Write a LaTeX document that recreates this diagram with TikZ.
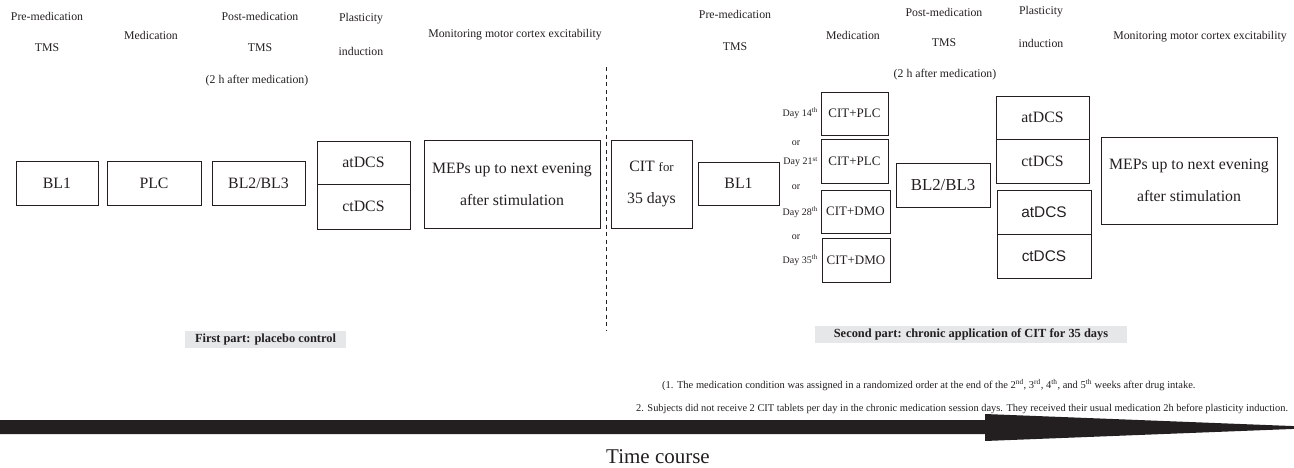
\documentclass[tikz,border=0pt]{standalone}
\usepackage{fontspec}
\setmainfont{Liberation Serif}
\newfontfamily\arialfont{Liberation Sans}
\definecolor{ink}{RGB}{35,31,32}
\definecolor{labelgray}{RGB}{230,231,232}
\newcommand{\myfs}[2]{\fontsize{#1}{#2}\selectfont}
\begin{document}
\begin{tikzpicture}[x=1pt,y=-1pt,
  box/.style={draw=ink, line width=0.9pt, inner sep=0pt, align=center, text=ink, font=\rmfamily\myfs{15.8}{32}},
  medbox/.style={box, font=\rmfamily\myfs{13}{15}},
  sansbox/.style={box, font=\arialfont\myfs{15.4}{18}},
  hdr/.style={inner sep=0pt, text=ink, font=\myfs{11.8}{14}},
  daylbl/.style={inner sep=0pt, text=ink, anchor=east, font=\myfs{10}{12}},
  orlbl/.style={inner sep=0pt, text=ink, font=\myfs{10}{12}},
  partlbl/.style={fill=labelgray, inner sep=0pt, text=ink, font=\bfseries\myfs{12.4}{14}, minimum height=17pt},
  note/.style={inner sep=0pt, text=ink, anchor=west, font=\myfs{10.5}{12}},
  divider/.style={draw=ink, line width=1pt, dash pattern=on 4pt off 3.5pt}
]
\useasboundingbox (0,0) rectangle (1294,467);
\clip (0,0) rectangle (1294,467);

% ---------- headers, first part ----------
\node[hdr] (h1a) at (47,16) {Pre-medication};
\node[hdr] (h1b) at (47,48) {TMS};
\node[hdr] (h2)  at (151,35) {Medication};
\node[hdr] (h3a) at (260,16) {Post-medication};
\node[hdr] (h3b) at (260,48) {TMS};
\node[hdr] (h3c) at (257,81) {(2 h after medication)};
\node[hdr] (h4a) at (361,19) {Plasticity};
\node[hdr] (h4b) at (361,51) {induction};
\node[hdr] (h5)  at (515,35) {Monitoring motor cortex excitability};

% ---------- headers, second part ----------
\node[hdr] (k1a) at (735,14) {Pre-medication};
\node[hdr] (k1b) at (735,47) {TMS};
\node[hdr] (k2)  at (853,35) {Medication};
\node[hdr] (k3a) at (944,12) {Post-medication};
\node[hdr] (k3b) at (944,43) {TMS};
\node[hdr] (k3c) at (945,75) {(2 h after medication)};
\node[hdr] (k4a) at (1041,12) {Plasticity};
\node[hdr] (k4b) at (1041,43) {induction};
\node[hdr] (k5)  at (1200,37) {Monitoring motor cortex excitability};

% ---------- first part boxes ----------
\node[box, minimum width=82pt, minimum height=44pt] (bl1) at (57,183) {BL1};
\node[box, minimum width=94pt, minimum height=44pt] (plc) at (154,183) {PLC};
\node[box, minimum width=93pt, minimum height=44pt] (bl23) at (258.5,183) {BL2/BL3};
\node[box, minimum width=93pt, minimum height=43pt] (at1) at (363.5,162.5) {atDCS};
\node[box, minimum width=93pt, minimum height=45pt] (ct1) at (363.5,206.5) {ctDCS};
\node[box, minimum width=176pt, minimum height=88pt] (mep1) at (512,184) {MEPs up to next evening\\after stimulation};

% ---------- divider ----------
\coordinate (dtop) at (606,67);
\coordinate (dbot) at (606,330);
\draw[divider] (dtop) -- (dbot);

% ---------- second part boxes ----------
\node[box, minimum width=81pt, minimum height=88pt] (cit) at (651.5,184) {CIT {\myfs{12.8}{32}for}\\35 days};
\node[box, minimum width=81pt, minimum height=43pt] (bl1r) at (738.5,183.5) {BL1};
\node[medbox, minimum width=67pt, minimum height=43pt] (m1) at (854.5,113.5) {CIT+PLC};
\node[medbox, minimum width=67pt, minimum height=44pt] (m2) at (854.5,161) {CIT+PLC};
\node[medbox, minimum width=69pt, minimum height=43pt] (m3) at (855.5,211.5) {CIT+DMO};
\node[medbox, minimum width=68pt, minimum height=44pt] (m4) at (856,260) {CIT+DMO};
\node[daylbl] (d1) at (818,113) {Day 14\textsuperscript{th}};
\node[daylbl] (d2) at (818,162) {Day 21\textsuperscript{st}};
\node[daylbl] (d3) at (818,212) {Day 28\textsuperscript{th}};
\node[daylbl] (d4) at (818,260) {Day 35\textsuperscript{th}};
\node[orlbl] (o1) at (796,143) {or};
\node[orlbl] (o2) at (796,187) {or};
\node[orlbl] (o3) at (796,237) {or};
\node[box, minimum width=94pt, minimum height=44pt, font=\rmfamily\myfs{16.8}{20}] (bl23r) at (943,185) {BL2/BL3};
\node[box, minimum width=93pt, minimum height=43pt] (at2) at (1042.5,117.5) {atDCS};
\node[box, minimum width=93pt, minimum height=44pt] (ct2) at (1042.5,161) {ctDCS};
\node[sansbox, minimum width=94pt, minimum height=44pt] (at3) at (1044,212) {atDCS};
\node[sansbox, minimum width=94pt, minimum height=44pt] (ct3) at (1044,256) {ctDCS};
\node[box, minimum width=176pt, minimum height=87pt] (mep2) at (1189,180.5) {MEPs up to next evening\\after stimulation};

% ---------- part labels ----------
\node[partlbl, minimum width=161pt] (p1) at (265.5,339.5) {First part: placebo control};
\node[partlbl, minimum width=312pt] (p2) at (971,334.5) {Second part: chronic application of CIT for 35 days};

% ---------- notes ----------
\node[note] (n1) at (662,385) {(1. The medication condition was assigned in a randomized order at the end of the 2\textsuperscript{nd}, 3\textsuperscript{rd}, 4\textsuperscript{th}, and 5\textsuperscript{th} weeks after drug intake.};
\node[note, font=\myfs{10.4}{12}] (n2) at (636,409) {2. Subjects did not receive 2 CIT tablets per day in the chronic medication session days. They received their usual medication 2h before plasticity induction.};

% ---------- time arrow ----------
\fill[ink] (0,420) -- (985,420) -- (985,414) -- (1330,427.5) -- (985,441) -- (985,434) -- (0,434) -- cycle;
\node[inner sep=0pt, text=ink, font=\myfs{21}{24}] (tc) at (658,457) {Time course};
\end{tikzpicture}
\end{document}
